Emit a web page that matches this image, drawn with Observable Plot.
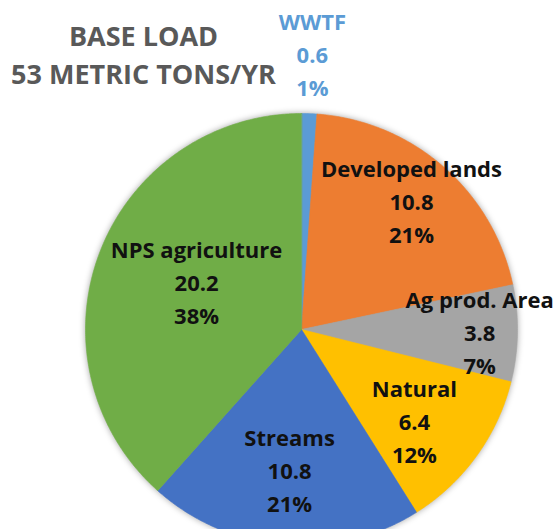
<!DOCTYPE html>
<html>
<head>
<meta charset="utf-8">
<script src="https://cdn.jsdelivr.net/npm/d3@7"></script>
<script src="https://cdn.jsdelivr.net/npm/@observablehq/plot@0.6"></script>
<style>
  html, body { margin: 0; padding: 0; background: #fff; }
  #chart { width: 557px; height: 529px; overflow: hidden; }
  #chart svg { display: block; }
</style>
</head>
<body>
<div id="chart"></div>
<script>
// ---- data ----
const categories = ["WWTF", "Developed lands", "Ag prod. Area", "Natural", "Streams", "NPS agriculture"];
const values = [0.6, 10.8, 3.8, 6.4, 10.8, 20.2];
const percents = ["1%", "21%", "7%", "12%", "21%", "38%"];
const titleLines = ["BASE LOAD", "53 METRIC TONS/YR"];

// ---- styling / layout (not data) ----
const colors = ["#5B9BD5", "#ED7D31", "#A5A5A5", "#FFC000", "#4472C4", "#70AD47"];
const labelColors = ["#5B9BD5", "#111", "#111", "#111", "#111", "#111"];
const labelRadius = [1.27, 0.775, 0.825, 0.68, 0.66, 0.52];
const labelShift = [3, 4, 2, -4, 3, 9];    // pixels upward
const labelShiftX = [1, 0, 0, -6, 0, 0];   // pixels rightward
const W = 557, H = 529, CX = 301, CY = 329, R = 216;
const FONT = "'Open Sans', Lato, sans-serif";

// pie angles
const arcs = d3.pie().sort(null).value(d => d)(values);

// slice polygons computed from angles
const slicePts = [];
arcs.forEach((a, i) => {
  const cat = categories[i];
  slicePts.push({cat, x: 0, y: 0});
  const n = Math.max(4, Math.ceil((a.endAngle - a.startAngle) / (Math.PI / 360)));
  for (let k = 0; k <= n; k++) {
    const t = a.startAngle + (a.endAngle - a.startAngle) * k / n;
    slicePts.push({cat, x: Math.sin(t), y: Math.cos(t)});
  }
});

const labels = arcs.map((a, i) => {
  const m = (a.startAngle + a.endAngle) / 2;
  return {
    cat: categories[i],
    x: Math.sin(m) * labelRadius[i] + labelShiftX[i] / R,
    y: Math.cos(m) * labelRadius[i] + labelShift[i] / R,
    text: `${categories[i]}\n${values[i].toFixed(1)}\n${percents[i]}`,
    color: labelColors[i]
  };
});

const plot = Plot.plot({
  width: W,
  height: H,
  margin: 0,
  x: {domain: [-CX / R, (W - CX) / R], axis: null},
  y: {domain: [-(H - CY) / R, CY / R], axis: null},
  color: {domain: categories, range: colors},
  marks: [
    Plot.line(slicePts, {
      x: "x", y: "y", z: "cat", fill: "cat", stroke: "cat", strokeWidth: 0.6,
      curve: "linear-closed", className: "pie"
    }),
    Plot.text(labels, {
      x: "x", y: "y", text: "text", fill: "color",
      fontFamily: FONT, fontWeight: 700, fontSize: 22, lineHeight: 1.5,
      textAnchor: "middle", lineAnchor: "middle"
    }),
    Plot.text([titleLines.join("\n")], {
      frameAnchor: "top-left", dx: 143, dy: 52, text: d => d,
      fill: "#595959", fontFamily: FONT, fontWeight: 700, fontSize: 27,
      lineHeight: 1.43, textAnchor: "middle", lineAnchor: "middle"
    })
  ]
});

d3.select(plot).selectAll("g.pie").style("filter", "drop-shadow(0px 0px 3px rgba(0,0,0,0.35))");
document.getElementById("chart").appendChild(plot);
</script>
</body>
</html>
